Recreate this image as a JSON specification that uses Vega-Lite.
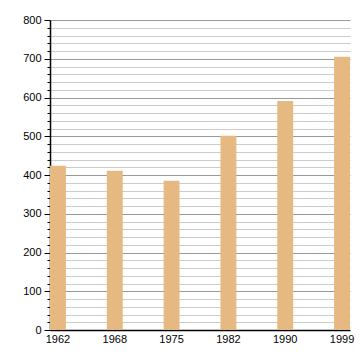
{
  "$schema": "https://vega.github.io/schema/vega-lite/v6.json",
  "width": 300,
  "height": 310,
  "autosize": {"type": "none"},
  "padding": {"left": 50, "top": 20, "right": 10, "bottom": 30},
  "background": "white",
  "config": {"view": {"stroke": null}, "font": "Liberation Sans"},
  "data": {"values": [
    {"year": "1962", "value": 424},
    {"year": "1968", "value": 411},
    {"year": "1975", "value": 385},
    {"year": "1982", "value": 501},
    {"year": "1990", "value": 591},
    {"year": "1999", "value": 705}
  ]},
  "mark": {"type": "bar", "color": "#E6B982"},
  "encoding": {
    "x": {
      "field": "year", "type": "ordinal", "title": null,
      "scale": {"paddingInner": 0.72, "paddingOuter": 0},
      "axis": {"labelAngle": 0, "ticks": false, "domainColor": "#000", "domainWidth": 1.5, "labelColor": "#000", "labelFontSize": 11, "labelPadding": 3}
    },
    "y": {
      "field": "value", "type": "quantitative", "title": null,
      "scale": {"domain": [0, 800], "nice": false},
      "axis": {
        "values": [0,20,40,60,80,100,120,140,160,180,200,220,240,260,280,300,320,340,360,380,400,420,440,460,480,500,520,540,560,580,600,620,640,660,680,700,720,740,760,780,800],
        "labelExpr": "datum.value % 100 === 0 ? datum.label : ''",
        "grid": true,
        "gridColor": {"condition": {"test": "datum.value % 100 === 0", "value": "#999999"}, "value": "#cccccc"},
        "gridWidth": 1,
        "tickSize": {"condition": {"test": "datum.value % 100 === 0", "value": 6}, "value": 3},
        "tickColor": "#000",
        "domainColor": "#000",
        "domainWidth": 1.5,
        "labelColor": "#000",
        "labelFontSize": 11,
        "labelPadding": 3,
        "labelOverlap": false
      }
    }
  }
}
